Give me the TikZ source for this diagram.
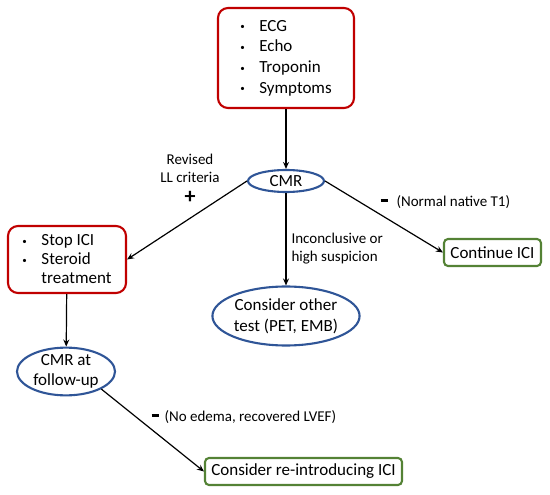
\documentclass[tikz,border=0pt]{standalone}
\usepackage{fontspec}
\setmainfont{Carlito}
\usepackage{tikz}
\usetikzlibrary{positioning,arrows.meta,shapes.geometric}
\definecolor{red}{HTML}{C00000}
\definecolor{blue}{HTML}{2F5597}
\definecolor{green}{HTML}{548235}
\newcommand{\bl}{\makebox[19pt][l]{\raisebox{1.3pt}{\small\textbullet}}}
\newcommand{\dash}{\rule[3.5pt]{7pt}{2.6pt}}
\tikzset{
  redbox/.style={draw=red,line width=2.1pt,rounded corners=10pt,align=left,inner sep=0pt},
  greenbox/.style={draw=green,line width=2.1pt,rounded corners=4pt,inner sep=0pt,minimum height=27pt},
  oval/.style={draw=blue,line width=2.1pt,ellipse,inner sep=0pt,align=center},
  link/.style={-{Stealth[length=7pt,width=6pt]},line width=1.2pt},
  note/.style={font=\fontsize{15}{18}\selectfont}
}
\begin{document}
\begin{tikzpicture}[x=1pt,y=-1pt,font=\fontsize{17}{20}\selectfont]
  \useasboundingbox (0,0) rectangle (550,495);
  % screening
  \node[redbox,minimum width=136pt,minimum height=100pt,font=\fontsize{17}{20.7}\selectfont] (screen) at (286,58)
    {\bl ECG\\\bl Echo\\\bl Troponin\\\bl Symptoms};
  \node[oval,minimum width=76pt,minimum height=22pt] (cmr) at (286,181) {CMR};
  % branches
  \node[redbox,minimum width=118pt,minimum height=67pt,font=\fontsize{17}{19}\selectfont] (stop) at (67,259.5)
    {\bl Stop ICI\\\bl Steroid\\\hspace*{19pt}treatment};
  \node[greenbox,minimum width=97pt] (cont) at (492.5,252.5) {Continue ICI};
  \node[oval,minimum width=136pt,minimum height=59pt,font=\fontsize{17}{21}\selectfont] (other) at (286,316) {Consider other\\test (PET, EMB)};
  \node[oval,minimum width=98pt,minimum height=47pt] (follow) at (66,371.5) {CMR at\\follow-up};
  \node[greenbox,minimum width=197pt] (reintro) at (303.5,471.5) {Consider re-introducing ICI};
  % connectors
  \draw[link] (screen) -- (cmr);
  \draw[link] (cmr.west) -- (stop.east);
  \draw[link] (cmr.east) -- (cont.west);
  \draw[link] (cmr) -- (other);
  \draw[link] (stop) -- (follow);
  \draw[link] (follow.south east) -- (reintro.west);
  % labels
  \node[note,align=center] (revised) at (190,168) {Revised\\LL criteria};
  \node[font=\fontsize{22}{22}\selectfont\bfseries] (plus) at (190,197) {+};
  \node[note,align=left,anchor=west] (inconcl) at (288,249) {Inconclusive or\\high suspicion};
  \node[inner sep=0pt] (minus1) at (384,202) {\dash};
  \node[note,anchor=west] (normal) at (393,202) {(Normal native T1)};
  \node[inner sep=0pt] (minus2) at (155,417) {\dash};
  \node[note,anchor=west] (noedema) at (161,417) {(No edema, recovered LVEF)};
\end{tikzpicture}
\end{document}
